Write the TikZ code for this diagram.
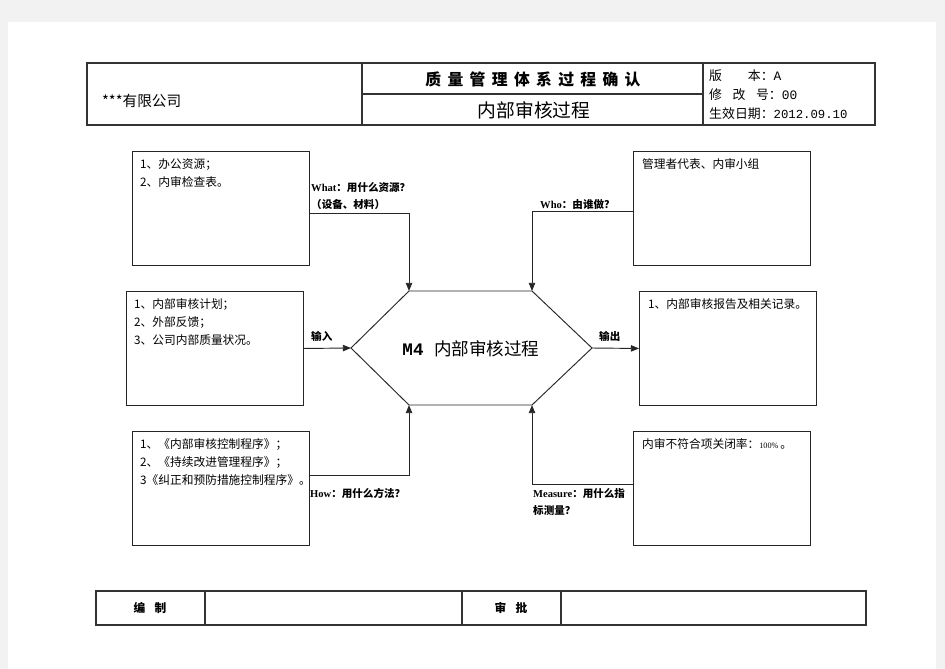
\documentclass[tikz,border=0pt]{standalone}
\usepackage{fontspec}
\setmainfont{Noto Sans CJK SC}
\newfontfamily\latinserif{Liberation Serif}
\newfontfamily\latinmono{Liberation Mono}
\newfontfamily\titlefont[LetterSpace=40]{Noto Sans CJK SC}
\usetikzlibrary{arrows.meta,positioning}

\begin{document}
\begin{tikzpicture}[x=0.03cm,y=-0.03cm,
  rule/.style={draw=black!80,line width=0.9pt},
  box/.style={draw=black!85,line width=0.8pt,minimum width=5.31cm,minimum height=3.42cm,anchor=north west,inner sep=0pt},
  body/.style={inner sep=0pt,align=left,font=\fontsize{10}{15.5}\selectfont},
  tag/.style={inner sep=0pt,align=left,font=\fontsize{9}{14.5}\selectfont\bfseries},
  link/.style={draw=black!85,line width=0.8pt,-{Triangle[length=7pt,width=5.5pt]}}]
\useasboundingbox (0,0) rectangle (945,669);
\fill[black!5] (0,0) rectangle (945,669);
\fill[white] (8,22) rectangle (936,669);

\draw[rule] (87,63) rectangle (875,125);
\draw[rule] (362,63) -- (362,125) (703,63) -- (703,125) (362,94) -- (703,94);
\node[anchor=west,font=\fontsize{12.5}{13}\selectfont] (firm) at (98,101) {***有限公司};
\node[font=\titlefont\bfseries\fontsize{13.5}{14}\selectfont] (title) at (533,79) {质量管理体系过程确认};
\node[font=\fontsize{16}{17}\selectfont] (proc) at (534,110) {内部审核过程};
\node[anchor=west,inner sep=0pt,font=\fontsize{11}{12}\selectfont] (ver) at (709,76) {版　　本：{\latinmono A}};
\node[anchor=west,inner sep=0pt,font=\fontsize{11}{12}\selectfont] (rev) at (709,95) {修\hspace{9pt}改\hspace{9pt}号：{\latinmono 00}};
\node[anchor=west,inner sep=0pt,font=\fontsize{11}{12}\selectfont] (date) at (709,114) {生效日期：{\latinmono\fontsize{10.5}{12}\selectfont 2012.09.10}};

\node[box] (res) at (132,151) {};
\node[box] (who) at (633,151) {};
\node[box] (in) at (126,291) {};
\node[box] (out) at (639,291) {};
\node[box] (how) at (132,431) {};
\node[box] (meas) at (633,431) {};

\node[body,below right=0.22cm and 0.24cm of res.north west] (restext) {1、办公资源；\\2、内审检查表。};
\node[body,below right=0.22cm and 0.27cm of who.north west] (whotext) {管理者代表、内审小组};
\node[body,below right=0.22cm and 0.24cm of in.north west] (intext) {1、内部审核计划；\\2、外部反馈；\\3、公司内部质量状况。};
\node[body,below right=0.22cm and 0.27cm of out.north west] (outtext) {1、内部审核报告及相关记录。};
\node[body,below right=0.22cm and 0.24cm of how.north west] (howtext) {1、《内部审核控制程序》；\\2、《持续改进管理程序》；\\3《纠正和预防措施控制程序》。};
\node[body,below right=0.22cm and 0.27cm of meas.north west] (meastext) {内审不符合项关闭率：{\latinserif\fontsize{7}{8}\selectfont 100\%}\,。};

\coordinate (hw) at (351,348);
\coordinate (hnw) at (409,291);
\coordinate (hne) at (532,291);
\coordinate (he) at (592,348);
\coordinate (hse) at (532,405);
\coordinate (hsw) at (409,405);
\draw[draw=black!85,line width=0.8pt] (hw) -- (hnw) -- (hne) -- (he) -- (hse) -- (hsw) -- cycle;
\node[font=\fontsize{15}{16}\selectfont] (m4) at (471,349) {{\latinmono\bfseries M4 }内部审核过程};

\draw[link] ([yshift=-0.15cm]res.east) -| (hnw);
\draw[link] ([yshift=-0.1cm]who.west) -| (hne);
\draw[link] (in.east) -- (hw);
\draw[link] (he) -- (out.west);
\draw[link] ([yshift=0.39cm]how.east) -| (hsw);
\draw[link] ([yshift=0.12cm]meas.west) -| (hse);

\node[tag,anchor=north west] (whatlbl) at (311,182) {{\latinserif What}：用什么资源？\\（设备、材料）};
\node[tag,anchor=west] (wholbl) at (540,205) {{\latinserif Who}：由谁做？};
\node[tag,anchor=west] (inlbl) at (311,336) {输入};
\node[tag,anchor=west] (outlbl) at (599,336) {输出};
\node[tag,anchor=west] (howlbl) at (310,493) {{\latinserif How}：用什么方法？};
\node[tag,anchor=north west] (measlbl) at (533,488) {{\latinserif Measure}：用什么指\\标测量？};

\draw[rule] (96,591) rectangle (866,625);
\draw[rule] (205,591) -- (205,625) (462,591) -- (462,625) (561,591) -- (561,625);
\node[font=\fontsize{10}{11}\selectfont\bfseries] (draft) at (150,608) {编\hspace{0.8em}制};
\node[font=\fontsize{10}{11}\selectfont\bfseries] (approve) at (511,608) {审\hspace{0.8em}批};
\end{tikzpicture}
\end{document}
